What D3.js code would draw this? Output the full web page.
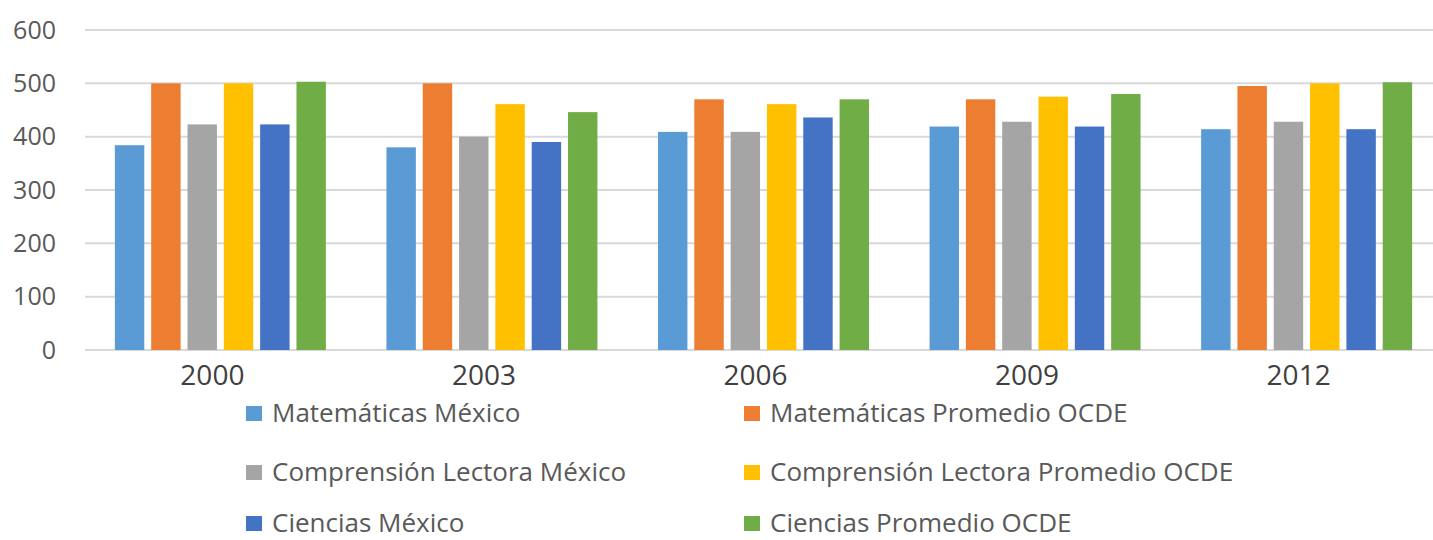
<!DOCTYPE html>
<html>
<head>
<meta charset="utf-8">
<script src="https://cdn.jsdelivr.net/npm/d3@7"></script>
<style>
  body { margin: 0; background: #fff; }
  svg { display: block; }
</style>
</head>
<body>
<div id="chart"></div>
<script>
// datos
var years = ['2000', '2003', '2006', '2009', '2012'];
var seriesNames = [
   'Matemáticas México',
   'Matemáticas Promedio OCDE',
   'Comprensión Lectora México',
   'Comprensión Lectora Promedio OCDE',
   'Ciencias México',
   'Ciencias Promedio OCDE'
];
var matMexico = [384, 380, 409, 419, 414];
var matOcde = [500, 500, 470, 470, 495];
var lecMexico = [423, 400, 409, 428, 428];
var lecOcde = [500, 461, 461, 475, 500];
var cienMexico = [423, 390, 436, 419, 414];
var cienOcde = [503, 446, 470, 480, 502];
var yTicks = [0, 100, 200, 300, 400, 500, 600];
var colors = ['#5B9BD5', '#ED7D31', '#A5A5A5', '#FFC000', '#4472C4', '#70AD47'];

var allSeries = [matMexico, matOcde, lecMexico, lecOcde, cienMexico, cienOcde];

var width = 1433, height = 540;
var svg = d3.select('#chart').append('svg')
   .attr('width', width)
   .attr('height', height);

var x0 = d3.scaleBand()
   .domain(years)
   .range([85, 1442])
   .paddingInner(0.223)
   .paddingOuter(0.11);

var x1 = d3.scaleBand()
   .domain(seriesNames)
   .range([0, x0.bandwidth()])
   .paddingInner(0.19);

var y = d3.scaleLinear()
   .domain([0, 600])
   .range([350, 30]);

// lineas de cuadricula
svg.append('g')
   .selectAll('line')
   .data(yTicks)
   .enter()
   .append('line')
   .attr('x1', 85)
   .attr('x2', 1433)
   .attr('y1', function (d) { return y(d); })
   .attr('y2', function (d) { return y(d); })
   .attr('stroke', '#d9d9d9')
   .attr('stroke-width', 2);

// eje y
var yAxis = svg.append('g')
   .attr('transform', 'translate(56, 0)')
   .call(d3.axisLeft(y).tickValues(yTicks).tickSize(0).tickPadding(0));
yAxis.select('.domain').remove();
yAxis.selectAll('text')
   .attr('font-family', '"Open Sans", sans-serif')
   .attr('font-size', 25)
   .attr('fill', '#595959');

// barras
var groups = svg.append('g')
   .selectAll('g')
   .data(years)
   .enter()
   .append('g')
   .attr('transform', function (d) { return 'translate(' + x0(d) + ',0)'; });

groups.selectAll('rect')
   .data(function (d, i) {
      return seriesNames.map(function (s, j) { return { name: s, value: allSeries[j][i], idx: j }; });
   })
   .enter()
   .append('rect')
   .attr('x', function (d) { return x1(d.name); })
   .attr('y', function (d) { return y(d.value); })
   .attr('width', x1.bandwidth())
   .attr('height', function (d) { return y(0) - y(d.value); })
   .attr('fill', function (d) { return colors[d.idx]; });

// eje x
var xAxis = svg.append('g')
   .attr('transform', 'translate(-8, 352)')
   .call(d3.axisBottom(x0).tickSize(0).tickPadding(13));
xAxis.select('.domain').remove();
xAxis.selectAll('text')
   .attr('font-family', '"Open Sans", sans-serif')
   .attr('font-size', 28)
   .attr('fill', '#404040');

// leyenda
var legend = svg.append('g')
   .selectAll('g')
   .data(seriesNames)
   .enter()
   .append('g')
   .attr('transform', function (d, i) {
      var col = i % 2, row = Math.floor(i / 2);
      var lx = col === 0 ? 246 : 744;
      var ly = [422, 481, 532][row];
      return 'translate(' + lx + ',' + ly + ')';
   });

legend.append('rect')
   .attr('x', 0)
   .attr('y', -16)
   .attr('width', 16)
   .attr('height', 15)
   .attr('fill', function (d, i) { return colors[i]; });

legend.append('text')
   .attr('x', 26)
   .attr('y', 0)
   .attr('font-family', '"Open Sans", sans-serif')
   .attr('font-size', 26)
   .attr('fill', '#595959')
   .text(function (d) { return d; });
</script>
</body>
</html>
